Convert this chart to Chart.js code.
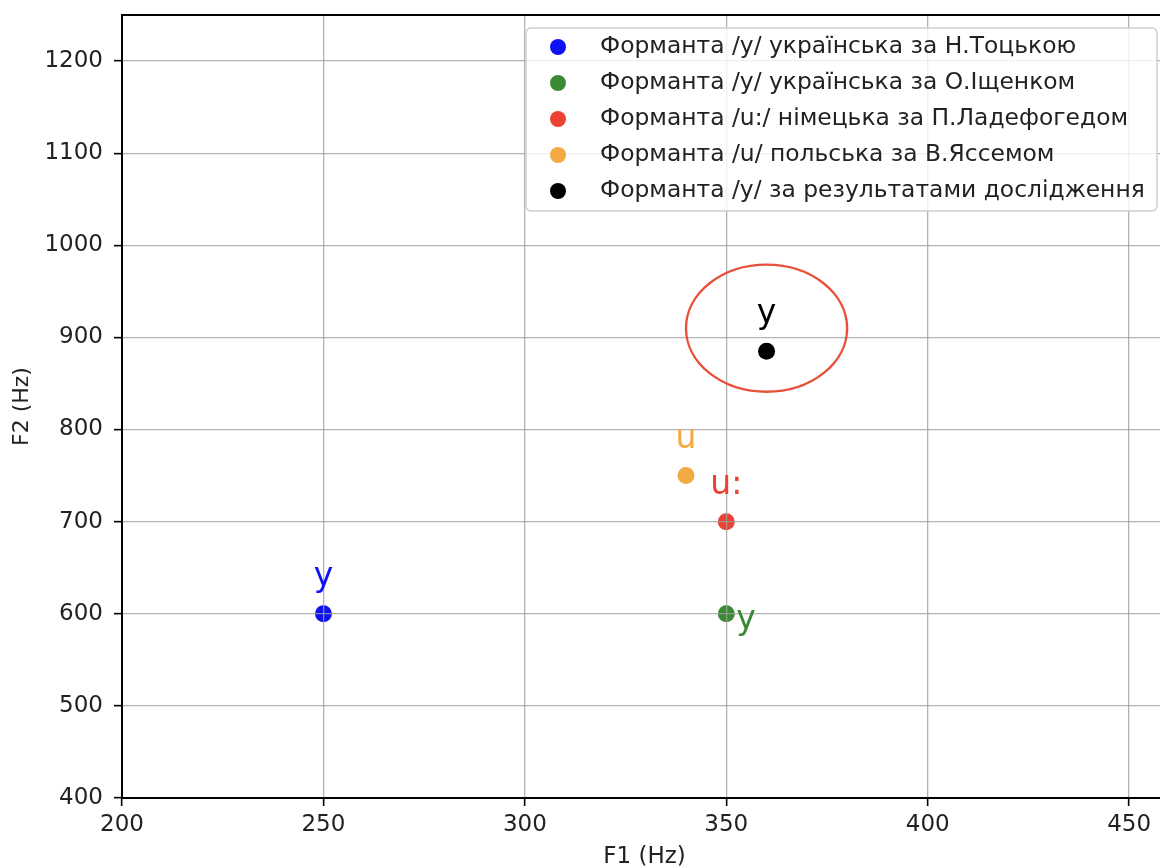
<!DOCTYPE html>
<html><head><meta charset="utf-8">
<script src="https://cdn.jsdelivr.net/npm/chart.js@4.4.0/dist/chart.umd.min.js"></script>
<style>
html,body{margin:0;padding:0;background:#fff;overflow:hidden}
#wrap{width:1160px;height:868px;overflow:hidden;position:relative;background:#fff}
canvas{display:block}
</style></head>
<body><div id="wrap"><canvas id="c" width="1190" height="868"></canvas></div>
<script>
// ---- data ----
const seriesLabels = [
  'Форманта /у/ українська за Н.Тоцькою',
  'Форманта /у/ українська за О.Іщенком',
  'Форманта /u:/ німецька за П.Ладефогедом',
  'Форманта /u/ польська за В.Яссемом',
  'Форманта /у/ за результатами дослідження'
];
const seriesColors = ['#0d12f2', '#3a8a35', '#ec4231', '#f3aa42', '#000000'];
const f1Values = [250, 350, 350, 340, 360];
const f2Values = [600, 600, 700, 750, 885];
const pointTags = ['у', 'у', 'u:', 'u', 'у'];
const tagSides = ['above', 'right', 'above', 'above', 'above'];
const xTickValues = [200, 250, 300, 350, 400, 450];
const yTickValues = [400, 500, 600, 700, 800, 900, 1000, 1100, 1200];
const xRange = [200, 459.4];
const yRange = [400, 1250];
const highlightEllipse = { cx: 360, cy: 910, w: 40, h: 138 };
const xTitle = 'F1 (Hz)';
const yTitle = 'F2 (Hz)';

const FONT = "'DejaVu Sans', sans-serif";

const datasets = seriesLabels.map((lab, i) => ({
  label: lab,
  data: [{ x: f1Values[i], y: f2Values[i] }],
  backgroundColor: seriesColors[i],
  borderColor: seriesColors[i],
  borderWidth: 0,
  pointRadius: 8.5,
  pointHoverRadius: 8.5
}));

const overlay = {
  id: 'overlay',
  afterDraw(chart) {
    const ctx = chart.ctx;
    const xs = chart.scales.x, ys = chart.scales.y;
    const a = chart.chartArea;
    ctx.save();
    // frame
    ctx.strokeStyle = '#000';
    ctx.lineWidth = 2;
    ctx.strokeRect(a.left, a.top, a.right - a.left, a.bottom - a.top);

    // ellipse
    const e = highlightEllipse;
    const cx = xs.getPixelForValue(e.cx), cy = ys.getPixelForValue(e.cy);
    const rx = Math.abs(xs.getPixelForValue(e.cx + e.w / 2) - cx);
    const ry = Math.abs(ys.getPixelForValue(e.cy + e.h / 2) - cy);
    ctx.beginPath();
    ctx.ellipse(cx, cy, rx, ry, 0, 0, Math.PI * 2);
    ctx.strokeStyle = '#e8503a';
    ctx.lineWidth = 2.4;
    ctx.stroke();

    // point tags
    ctx.font = '33px ' + FONT;
    ctx.textBaseline = 'alphabetic';
    pointTags.forEach((t, i) => {
      const px = xs.getPixelForValue(f1Values[i]);
      const py = ys.getPixelForValue(f2Values[i]);
      ctx.fillStyle = seriesColors[i];
      if (tagSides[i] === 'right') {
        ctx.textAlign = 'left';
        ctx.fillText(t, px + 10, py + 15);
      } else {
        ctx.textAlign = 'center';
        ctx.fillText(t, px, py - 28);
      }
    });

    // legend
    const lx = 526, ly = 28, lw = 631, lh = 183;
    ctx.beginPath();
    ctx.roundRect(lx, ly, lw, lh, 5);
    ctx.fillStyle = 'rgba(255,255,255,0.8)';
    ctx.fill();
    ctx.strokeStyle = '#d0d0d0';
    ctx.lineWidth = 1.5;
    ctx.stroke();
    ctx.font = '23.4px ' + FONT;
    ctx.textAlign = 'left';
    ctx.textBaseline = 'middle';
    seriesLabels.forEach((lab, i) => {
      const ry2 = 47 + i * 36;
      ctx.beginPath();
      ctx.arc(558, ry2, 8, 0, Math.PI * 2);
      ctx.fillStyle = seriesColors[i];
      ctx.fill();
      ctx.fillStyle = '#222';
      ctx.fillText(lab, 600, ry2);
    });
    ctx.restore();
  }
};

const gridCommon = {
  color: 'rgba(160,160,160,0.8)',
  lineWidth: 1.3,
  drawTicks: true,
  tickLength: 8,
  tickColor: '#000',
  tickWidth: 1.6,
  z: 1
};

new Chart(document.getElementById('c'), {
  type: 'scatter',
  data: { datasets },
  options: {
    responsive: false,
    animation: false,
    events: [],
    layout: { padding: { left: 0, top: 15, right: 23, bottom: 0 } },
    plugins: { legend: { display: false }, tooltip: { enabled: false } },
    scales: {
      x: {
        type: 'linear',
        min: xRange[0], max: xRange[1],
        grid: gridCommon,
        border: { display: true, color: '#000', width: 2, z: 1 },
        ticks: { stepSize: 50, color: '#222', font: { family: FONT, size: 23 }, padding: 5, maxRotation: 0,
                 callback: v => String(v) },
        afterBuildTicks: s => { s.ticks = xTickValues.map(v => ({ value: v })); },
        afterFit: s => { s.height = 70; },
        title: { display: true, text: xTitle, color: '#222', font: { family: FONT, size: 23, lineHeight: 1 }, padding: { top: 0, bottom: -1 } }
      },
      y: {
        type: 'linear',
        min: yRange[0], max: yRange[1],
        grid: gridCommon,
        border: { display: true, color: '#000', width: 2, z: 1 },
        ticks: { stepSize: 100, color: '#222', font: { family: FONT, size: 23 }, padding: 11,
                 callback: v => String(v) },
        afterBuildTicks: s => { s.ticks = yTickValues.map(v => ({ value: v })); },
        afterFit: s => { s.width = 122; s.paddingTop = 0; s.paddingBottom = 0; },
        title: { display: true, text: yTitle, color: '#222', font: { family: FONT, size: 22, lineHeight: 1 }, padding: { top: 11, bottom: 0 } }
      }
    }
  },
  plugins: [overlay]
});
</script>
</body></html>
